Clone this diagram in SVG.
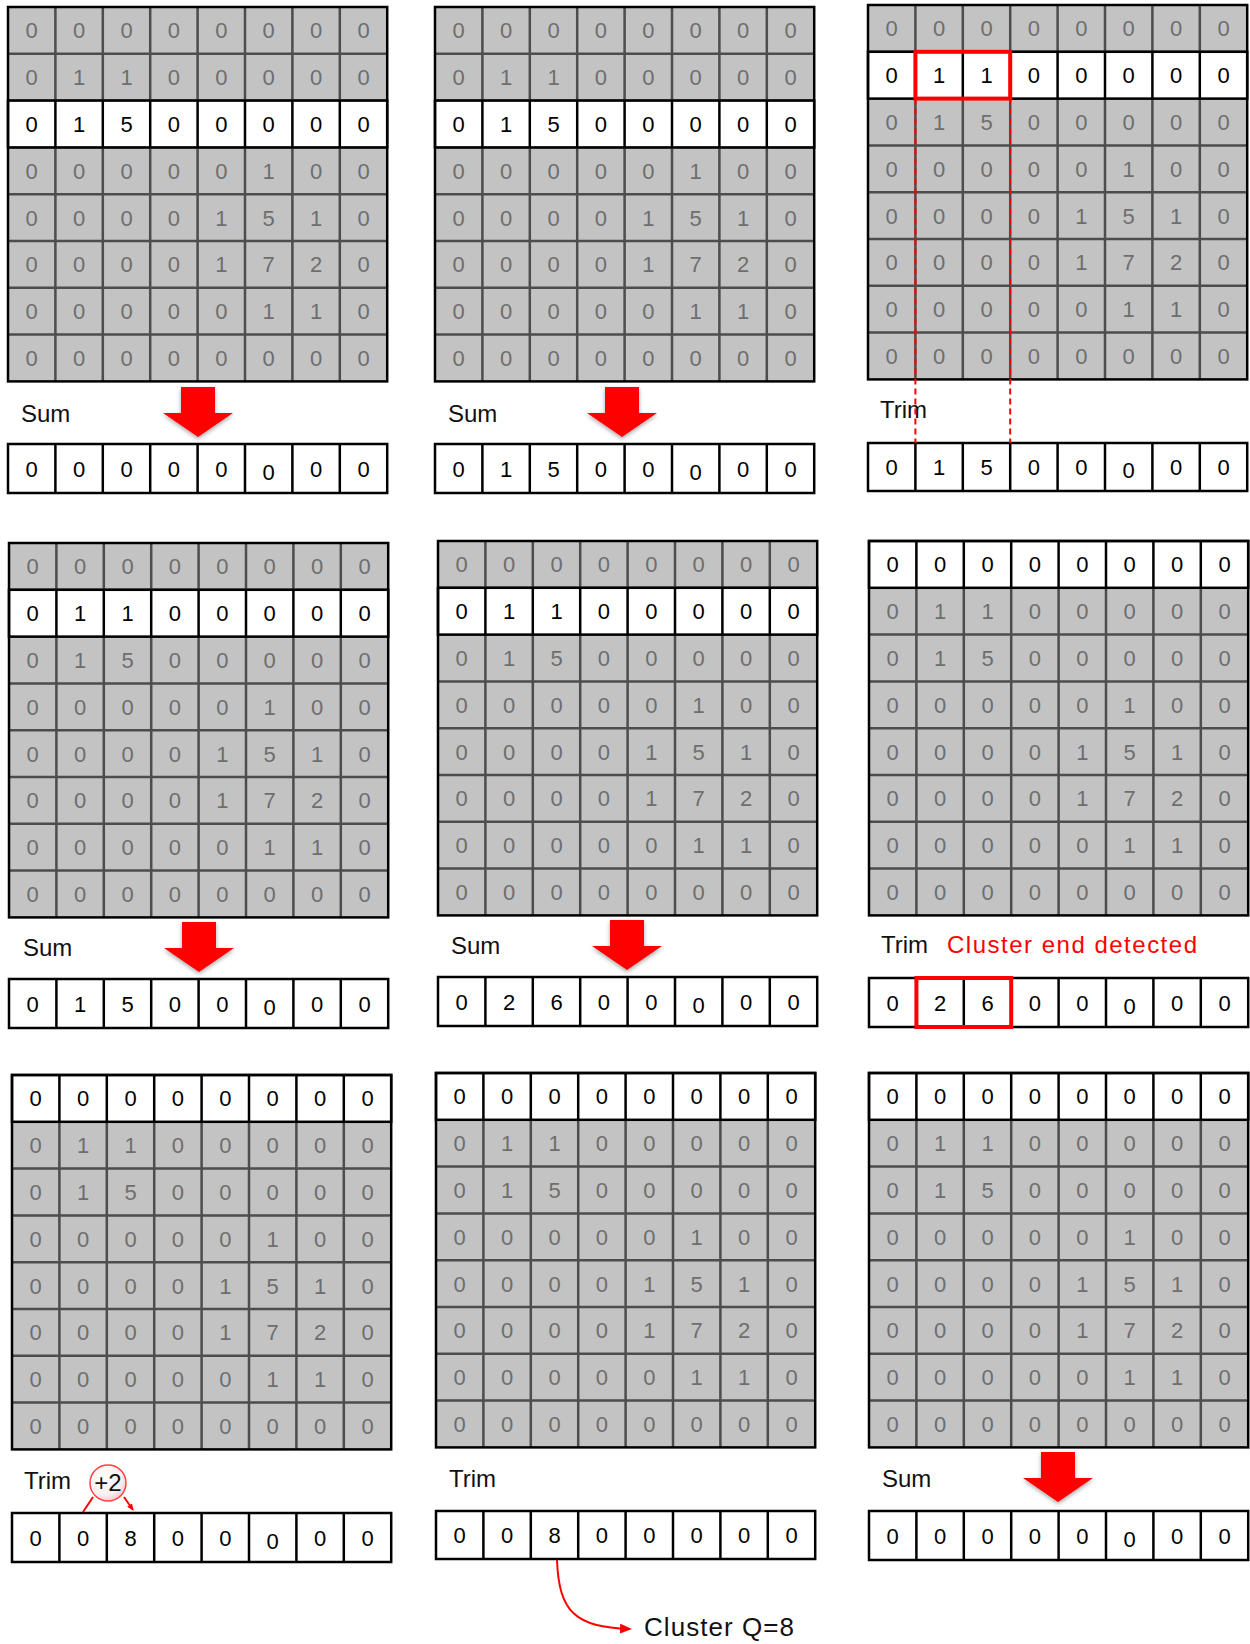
<svg xmlns="http://www.w3.org/2000/svg" xmlns:xlink="http://www.w3.org/1999/xlink" width="1250" height="1644" viewBox="0 0 1250 1644">
<style>
.bg{fill:#c3c3c3}
.gl{fill:none;stroke:#4d4d4d;stroke-width:2.5}
.wrow{fill:#fff;stroke:#000;stroke-width:2.5}
.wv{fill:none;stroke:#000;stroke-width:2.5}
.frame{fill:none;stroke:#000;stroke-width:2.5}
text{font-family:"Liberation Sans",Arial,sans-serif}
.d text,.k text{font-size:22px;text-anchor:middle}
.d{fill:#6e6e6e}
.k{fill:#000}
.lbl{font-size:24px;fill:#111}
.red{fill:#ff0000}
.hl{fill:none;stroke:#ff0000;stroke-width:4}
.dash{fill:none;stroke:#ff0000;stroke-width:2;stroke-dasharray:6 4}
.rl{fill:none;stroke:#ff0000;stroke-width:2}
.bigarrow{fill:#ff0000;filter:url(#sh)}
</style>
<defs>
<filter id="sh" x="-30%" y="-30%" width="160%" height="170%"><feDropShadow dx="0" dy="2" stdDeviation="2" flood-color="#000" flood-opacity="0.35"/></filter>
<radialGradient id="cg" cx="0.4" cy="0.35" r="0.7"><stop offset="0" stop-color="#ffffff"/><stop offset="0.7" stop-color="#f6f0f2"/><stop offset="1" stop-color="#f2c4c8"/></radialGradient>
<marker id="ahb" markerWidth="12" markerHeight="10" refX="10" refY="5" orient="auto" markerUnits="userSpaceOnUse"><path d="M0,0 L12,5 L0,10 Z" fill="#ff0000"/></marker>
<marker id="ahs" markerWidth="7" markerHeight="6" refX="6" refY="3" orient="auto" markerUnits="userSpaceOnUse"><path d="M0,0 L7,3 L0,6 Z" fill="#ff0000"/></marker>
<path id="gl" class="gl" d="M47.4 0V374.4M94.8 0V374.4M142.2 0V374.4M189.6 0V374.4M237 0V374.4M284.4 0V374.4M331.8 0V374.4M0 46.8H379.2M0 93.6H379.2M0 140.4H379.2M0 187.2H379.2M0 234H379.2M0 280.8H379.2M0 327.6H379.2"/>
<path id="wv" class="wv" d="M47.4 0V46.8M94.8 0V46.8M142.2 0V46.8M189.6 0V46.8M237 0V46.8M284.4 0V46.8M331.8 0V46.8"/>
<path id="bv" class="wv" d="M47.4 0V49M94.8 0V49M142.2 0V49M189.6 0V49M237 0V49M284.4 0V49M331.8 0V49"/>
<path id="arr" d="M-17,0 H17 V26 H35 L0,50 L-35,26 H-17 Z"/>
</defs>

<!-- Panel 1 -->
<g id="panel1" transform="translate(8,7)">
<rect class="bg" width="379.2" height="374.4"/>
<use xlink:href="#gl"/>
<rect class="wrow" y="93.6" width="379.2" height="46.8"/>
<use xlink:href="#wv" y="93.6"/>
<rect class="frame" width="379.2" height="374.4"/>
<g class="d" transform="translate(0,31.4)"><text x="23.7">0</text><text x="71.1">0</text><text x="118.5">0</text><text x="165.9">0</text><text x="213.3">0</text><text x="260.7">0</text><text x="308.1">0</text><text x="355.5">0</text></g>
<g class="d" transform="translate(0,78.2)"><text x="23.7">0</text><text x="71.1">1</text><text x="118.5">1</text><text x="165.9">0</text><text x="213.3">0</text><text x="260.7">0</text><text x="308.1">0</text><text x="355.5">0</text></g>
<g class="k" transform="translate(0,125)"><text x="23.7">0</text><text x="71.1">1</text><text x="118.5">5</text><text x="165.9">0</text><text x="213.3">0</text><text x="260.7">0</text><text x="308.1">0</text><text x="355.5">0</text></g>
<g class="d" transform="translate(0,171.8)"><text x="23.7">0</text><text x="71.1">0</text><text x="118.5">0</text><text x="165.9">0</text><text x="213.3">0</text><text x="260.7">1</text><text x="308.1">0</text><text x="355.5">0</text></g>
<g class="d" transform="translate(0,218.6)"><text x="23.7">0</text><text x="71.1">0</text><text x="118.5">0</text><text x="165.9">0</text><text x="213.3">1</text><text x="260.7">5</text><text x="308.1">1</text><text x="355.5">0</text></g>
<g class="d" transform="translate(0,265.4)"><text x="23.7">0</text><text x="71.1">0</text><text x="118.5">0</text><text x="165.9">0</text><text x="213.3">1</text><text x="260.7">7</text><text x="308.1">2</text><text x="355.5">0</text></g>
<g class="d" transform="translate(0,312.2)"><text x="23.7">0</text><text x="71.1">0</text><text x="118.5">0</text><text x="165.9">0</text><text x="213.3">0</text><text x="260.7">1</text><text x="308.1">1</text><text x="355.5">0</text></g>
<g class="d" transform="translate(0,359)"><text x="23.7">0</text><text x="71.1">0</text><text x="118.5">0</text><text x="165.9">0</text><text x="213.3">0</text><text x="260.7">0</text><text x="308.1">0</text><text x="355.5">0</text></g>
</g>
<g id="label1"><text class="lbl" x="21" y="422">Sum</text></g>
<g id="out1" transform="translate(8,444)">
<rect class="wrow" width="379.2" height="49"/><use xlink:href="#bv"/>
<g class="k" transform="translate(0,32.5)"><text x="23.7">0</text><text x="71.1">0</text><text x="118.5">0</text><text x="165.9">0</text><text x="213.3">0</text><text x="260.7" y="3">0</text><text x="308.1">0</text><text x="355.5">0</text></g>
</g>

<!-- Panel 2 -->
<g id="panel2" transform="translate(435,7)">
<rect class="bg" width="379.2" height="374.4"/>
<use xlink:href="#gl"/>
<rect class="wrow" y="93.6" width="379.2" height="46.8"/>
<use xlink:href="#wv" y="93.6"/>
<rect class="frame" width="379.2" height="374.4"/>
<g class="d" transform="translate(0,31.4)"><text x="23.7">0</text><text x="71.1">0</text><text x="118.5">0</text><text x="165.9">0</text><text x="213.3">0</text><text x="260.7">0</text><text x="308.1">0</text><text x="355.5">0</text></g>
<g class="d" transform="translate(0,78.2)"><text x="23.7">0</text><text x="71.1">1</text><text x="118.5">1</text><text x="165.9">0</text><text x="213.3">0</text><text x="260.7">0</text><text x="308.1">0</text><text x="355.5">0</text></g>
<g class="k" transform="translate(0,125)"><text x="23.7">0</text><text x="71.1">1</text><text x="118.5">5</text><text x="165.9">0</text><text x="213.3">0</text><text x="260.7">0</text><text x="308.1">0</text><text x="355.5">0</text></g>
<g class="d" transform="translate(0,171.8)"><text x="23.7">0</text><text x="71.1">0</text><text x="118.5">0</text><text x="165.9">0</text><text x="213.3">0</text><text x="260.7">1</text><text x="308.1">0</text><text x="355.5">0</text></g>
<g class="d" transform="translate(0,218.6)"><text x="23.7">0</text><text x="71.1">0</text><text x="118.5">0</text><text x="165.9">0</text><text x="213.3">1</text><text x="260.7">5</text><text x="308.1">1</text><text x="355.5">0</text></g>
<g class="d" transform="translate(0,265.4)"><text x="23.7">0</text><text x="71.1">0</text><text x="118.5">0</text><text x="165.9">0</text><text x="213.3">1</text><text x="260.7">7</text><text x="308.1">2</text><text x="355.5">0</text></g>
<g class="d" transform="translate(0,312.2)"><text x="23.7">0</text><text x="71.1">0</text><text x="118.5">0</text><text x="165.9">0</text><text x="213.3">0</text><text x="260.7">1</text><text x="308.1">1</text><text x="355.5">0</text></g>
<g class="d" transform="translate(0,359)"><text x="23.7">0</text><text x="71.1">0</text><text x="118.5">0</text><text x="165.9">0</text><text x="213.3">0</text><text x="260.7">0</text><text x="308.1">0</text><text x="355.5">0</text></g>
</g>
<g id="label2"><text class="lbl" x="448" y="422">Sum</text></g>
<g id="out2" transform="translate(435,444)">
<rect class="wrow" width="379.2" height="49"/><use xlink:href="#bv"/>
<g class="k" transform="translate(0,32.5)"><text x="23.7">0</text><text x="71.1">1</text><text x="118.5">5</text><text x="165.9">0</text><text x="213.3">0</text><text x="260.7" y="3">0</text><text x="308.1">0</text><text x="355.5">0</text></g>
</g>

<!-- Panel 3 -->
<g id="panel3" transform="translate(868,5)">
<rect class="bg" width="379.2" height="374.4"/>
<use xlink:href="#gl"/>
<rect class="wrow" y="46.8" width="379.2" height="46.8"/>
<use xlink:href="#wv" y="46.8"/>
<rect class="frame" width="379.2" height="374.4"/>
<g class="d" transform="translate(0,31.4)"><text x="23.7">0</text><text x="71.1">0</text><text x="118.5">0</text><text x="165.9">0</text><text x="213.3">0</text><text x="260.7">0</text><text x="308.1">0</text><text x="355.5">0</text></g>
<g class="k" transform="translate(0,78.2)"><text x="23.7">0</text><text x="71.1">1</text><text x="118.5">1</text><text x="165.9">0</text><text x="213.3">0</text><text x="260.7">0</text><text x="308.1">0</text><text x="355.5">0</text></g>
<g class="d" transform="translate(0,125)"><text x="23.7">0</text><text x="71.1">1</text><text x="118.5">5</text><text x="165.9">0</text><text x="213.3">0</text><text x="260.7">0</text><text x="308.1">0</text><text x="355.5">0</text></g>
<g class="d" transform="translate(0,171.8)"><text x="23.7">0</text><text x="71.1">0</text><text x="118.5">0</text><text x="165.9">0</text><text x="213.3">0</text><text x="260.7">1</text><text x="308.1">0</text><text x="355.5">0</text></g>
<g class="d" transform="translate(0,218.6)"><text x="23.7">0</text><text x="71.1">0</text><text x="118.5">0</text><text x="165.9">0</text><text x="213.3">1</text><text x="260.7">5</text><text x="308.1">1</text><text x="355.5">0</text></g>
<g class="d" transform="translate(0,265.4)"><text x="23.7">0</text><text x="71.1">0</text><text x="118.5">0</text><text x="165.9">0</text><text x="213.3">1</text><text x="260.7">7</text><text x="308.1">2</text><text x="355.5">0</text></g>
<g class="d" transform="translate(0,312.2)"><text x="23.7">0</text><text x="71.1">0</text><text x="118.5">0</text><text x="165.9">0</text><text x="213.3">0</text><text x="260.7">1</text><text x="308.1">1</text><text x="355.5">0</text></g>
<g class="d" transform="translate(0,359)"><text x="23.7">0</text><text x="71.1">0</text><text x="118.5">0</text><text x="165.9">0</text><text x="213.3">0</text><text x="260.7">0</text><text x="308.1">0</text><text x="355.5">0</text></g>
<rect class="hl" x="47.4" y="46.8" width="94.8" height="46.8"/>
</g>
<g id="label3"><text class="lbl" x="880" y="418">Trim</text></g>
<g id="out3" transform="translate(868,443)">
<rect class="wrow" width="379.2" height="48"/><use xlink:href="#bv" transform="scale(1,0.98)"/>
<g class="k" transform="translate(0,32)"><text x="23.7">0</text><text x="71.1">1</text><text x="118.5">5</text><text x="165.9">0</text><text x="213.3">0</text><text x="260.7" y="3">0</text><text x="308.1">0</text><text x="355.5">0</text></g>
</g>

<!-- Panel 4 -->
<g id="panel4" transform="translate(9,543)">
<rect class="bg" width="379.2" height="374.4"/>
<use xlink:href="#gl"/>
<rect class="wrow" y="46.8" width="379.2" height="46.8"/>
<use xlink:href="#wv" y="46.8"/>
<rect class="frame" width="379.2" height="374.4"/>
<g class="d" transform="translate(0,31.4)"><text x="23.7">0</text><text x="71.1">0</text><text x="118.5">0</text><text x="165.9">0</text><text x="213.3">0</text><text x="260.7">0</text><text x="308.1">0</text><text x="355.5">0</text></g>
<g class="k" transform="translate(0,78.2)"><text x="23.7">0</text><text x="71.1">1</text><text x="118.5">1</text><text x="165.9">0</text><text x="213.3">0</text><text x="260.7">0</text><text x="308.1">0</text><text x="355.5">0</text></g>
<g class="d" transform="translate(0,125)"><text x="23.7">0</text><text x="71.1">1</text><text x="118.5">5</text><text x="165.9">0</text><text x="213.3">0</text><text x="260.7">0</text><text x="308.1">0</text><text x="355.5">0</text></g>
<g class="d" transform="translate(0,171.8)"><text x="23.7">0</text><text x="71.1">0</text><text x="118.5">0</text><text x="165.9">0</text><text x="213.3">0</text><text x="260.7">1</text><text x="308.1">0</text><text x="355.5">0</text></g>
<g class="d" transform="translate(0,218.6)"><text x="23.7">0</text><text x="71.1">0</text><text x="118.5">0</text><text x="165.9">0</text><text x="213.3">1</text><text x="260.7">5</text><text x="308.1">1</text><text x="355.5">0</text></g>
<g class="d" transform="translate(0,265.4)"><text x="23.7">0</text><text x="71.1">0</text><text x="118.5">0</text><text x="165.9">0</text><text x="213.3">1</text><text x="260.7">7</text><text x="308.1">2</text><text x="355.5">0</text></g>
<g class="d" transform="translate(0,312.2)"><text x="23.7">0</text><text x="71.1">0</text><text x="118.5">0</text><text x="165.9">0</text><text x="213.3">0</text><text x="260.7">1</text><text x="308.1">1</text><text x="355.5">0</text></g>
<g class="d" transform="translate(0,359)"><text x="23.7">0</text><text x="71.1">0</text><text x="118.5">0</text><text x="165.9">0</text><text x="213.3">0</text><text x="260.7">0</text><text x="308.1">0</text><text x="355.5">0</text></g>
</g>
<g id="label4"><text class="lbl" x="23" y="956">Sum</text></g>
<g id="out4" transform="translate(9,979)">
<rect class="wrow" width="379.2" height="49"/><use xlink:href="#bv"/>
<g class="k" transform="translate(0,32.5)"><text x="23.7">0</text><text x="71.1">1</text><text x="118.5">5</text><text x="165.9">0</text><text x="213.3">0</text><text x="260.7" y="3">0</text><text x="308.1">0</text><text x="355.5">0</text></g>
</g>

<!-- Panel 5 -->
<g id="panel5" transform="translate(438,541)">
<rect class="bg" width="379.2" height="374.4"/>
<use xlink:href="#gl"/>
<rect class="wrow" y="46.8" width="379.2" height="46.8"/>
<use xlink:href="#wv" y="46.8"/>
<rect class="frame" width="379.2" height="374.4"/>
<g class="d" transform="translate(0,31.4)"><text x="23.7">0</text><text x="71.1">0</text><text x="118.5">0</text><text x="165.9">0</text><text x="213.3">0</text><text x="260.7">0</text><text x="308.1">0</text><text x="355.5">0</text></g>
<g class="k" transform="translate(0,78.2)"><text x="23.7">0</text><text x="71.1">1</text><text x="118.5">1</text><text x="165.9">0</text><text x="213.3">0</text><text x="260.7">0</text><text x="308.1">0</text><text x="355.5">0</text></g>
<g class="d" transform="translate(0,125)"><text x="23.7">0</text><text x="71.1">1</text><text x="118.5">5</text><text x="165.9">0</text><text x="213.3">0</text><text x="260.7">0</text><text x="308.1">0</text><text x="355.5">0</text></g>
<g class="d" transform="translate(0,171.8)"><text x="23.7">0</text><text x="71.1">0</text><text x="118.5">0</text><text x="165.9">0</text><text x="213.3">0</text><text x="260.7">1</text><text x="308.1">0</text><text x="355.5">0</text></g>
<g class="d" transform="translate(0,218.6)"><text x="23.7">0</text><text x="71.1">0</text><text x="118.5">0</text><text x="165.9">0</text><text x="213.3">1</text><text x="260.7">5</text><text x="308.1">1</text><text x="355.5">0</text></g>
<g class="d" transform="translate(0,265.4)"><text x="23.7">0</text><text x="71.1">0</text><text x="118.5">0</text><text x="165.9">0</text><text x="213.3">1</text><text x="260.7">7</text><text x="308.1">2</text><text x="355.5">0</text></g>
<g class="d" transform="translate(0,312.2)"><text x="23.7">0</text><text x="71.1">0</text><text x="118.5">0</text><text x="165.9">0</text><text x="213.3">0</text><text x="260.7">1</text><text x="308.1">1</text><text x="355.5">0</text></g>
<g class="d" transform="translate(0,359)"><text x="23.7">0</text><text x="71.1">0</text><text x="118.5">0</text><text x="165.9">0</text><text x="213.3">0</text><text x="260.7">0</text><text x="308.1">0</text><text x="355.5">0</text></g>
</g>
<g id="label5"><text class="lbl" x="451" y="954">Sum</text></g>
<g id="out5" transform="translate(438,977)">
<rect class="wrow" width="379.2" height="49"/><use xlink:href="#bv"/>
<g class="k" transform="translate(0,32.5)"><text x="23.7">0</text><text x="71.1">2</text><text x="118.5">6</text><text x="165.9">0</text><text x="213.3">0</text><text x="260.7" y="3">0</text><text x="308.1">0</text><text x="355.5">0</text></g>
</g>

<!-- Panel 6 -->
<g id="panel6" transform="translate(869,541)">
<rect class="bg" width="379.2" height="374.4"/>
<use xlink:href="#gl"/>
<rect class="wrow" y="0" width="379.2" height="46.8"/>
<use xlink:href="#wv" y="0"/>
<rect class="frame" width="379.2" height="374.4"/>
<g class="k" transform="translate(0,31.4)"><text x="23.7">0</text><text x="71.1">0</text><text x="118.5">0</text><text x="165.9">0</text><text x="213.3">0</text><text x="260.7">0</text><text x="308.1">0</text><text x="355.5">0</text></g>
<g class="d" transform="translate(0,78.2)"><text x="23.7">0</text><text x="71.1">1</text><text x="118.5">1</text><text x="165.9">0</text><text x="213.3">0</text><text x="260.7">0</text><text x="308.1">0</text><text x="355.5">0</text></g>
<g class="d" transform="translate(0,125)"><text x="23.7">0</text><text x="71.1">1</text><text x="118.5">5</text><text x="165.9">0</text><text x="213.3">0</text><text x="260.7">0</text><text x="308.1">0</text><text x="355.5">0</text></g>
<g class="d" transform="translate(0,171.8)"><text x="23.7">0</text><text x="71.1">0</text><text x="118.5">0</text><text x="165.9">0</text><text x="213.3">0</text><text x="260.7">1</text><text x="308.1">0</text><text x="355.5">0</text></g>
<g class="d" transform="translate(0,218.6)"><text x="23.7">0</text><text x="71.1">0</text><text x="118.5">0</text><text x="165.9">0</text><text x="213.3">1</text><text x="260.7">5</text><text x="308.1">1</text><text x="355.5">0</text></g>
<g class="d" transform="translate(0,265.4)"><text x="23.7">0</text><text x="71.1">0</text><text x="118.5">0</text><text x="165.9">0</text><text x="213.3">1</text><text x="260.7">7</text><text x="308.1">2</text><text x="355.5">0</text></g>
<g class="d" transform="translate(0,312.2)"><text x="23.7">0</text><text x="71.1">0</text><text x="118.5">0</text><text x="165.9">0</text><text x="213.3">0</text><text x="260.7">1</text><text x="308.1">1</text><text x="355.5">0</text></g>
<g class="d" transform="translate(0,359)"><text x="23.7">0</text><text x="71.1">0</text><text x="118.5">0</text><text x="165.9">0</text><text x="213.3">0</text><text x="260.7">0</text><text x="308.1">0</text><text x="355.5">0</text></g>
</g>
<g id="label6"><text class="lbl" x="881" y="953">Trim</text><text class="lbl red" x="947" y="953" textLength="250" lengthAdjust="spacing">Cluster end detected</text></g>
<g id="out6" transform="translate(869,978)">
<rect class="wrow" width="379.2" height="49"/><use xlink:href="#bv"/>
<g class="k" transform="translate(0,32.5)"><text x="23.7">0</text><text x="71.1">2</text><text x="118.5">6</text><text x="165.9">0</text><text x="213.3">0</text><text x="260.7" y="3">0</text><text x="308.1">0</text><text x="355.5">0</text></g>
<rect class="hl" x="47.4" y="0" width="94.8" height="49"/>
</g>

<!-- Panel 7 -->
<g id="panel7" transform="translate(12,1075)">
<rect class="bg" width="379.2" height="374.4"/>
<use xlink:href="#gl"/>
<rect class="wrow" y="0" width="379.2" height="46.8"/>
<use xlink:href="#wv" y="0"/>
<rect class="frame" width="379.2" height="374.4"/>
<g class="k" transform="translate(0,31.4)"><text x="23.7">0</text><text x="71.1">0</text><text x="118.5">0</text><text x="165.9">0</text><text x="213.3">0</text><text x="260.7">0</text><text x="308.1">0</text><text x="355.5">0</text></g>
<g class="d" transform="translate(0,78.2)"><text x="23.7">0</text><text x="71.1">1</text><text x="118.5">1</text><text x="165.9">0</text><text x="213.3">0</text><text x="260.7">0</text><text x="308.1">0</text><text x="355.5">0</text></g>
<g class="d" transform="translate(0,125)"><text x="23.7">0</text><text x="71.1">1</text><text x="118.5">5</text><text x="165.9">0</text><text x="213.3">0</text><text x="260.7">0</text><text x="308.1">0</text><text x="355.5">0</text></g>
<g class="d" transform="translate(0,171.8)"><text x="23.7">0</text><text x="71.1">0</text><text x="118.5">0</text><text x="165.9">0</text><text x="213.3">0</text><text x="260.7">1</text><text x="308.1">0</text><text x="355.5">0</text></g>
<g class="d" transform="translate(0,218.6)"><text x="23.7">0</text><text x="71.1">0</text><text x="118.5">0</text><text x="165.9">0</text><text x="213.3">1</text><text x="260.7">5</text><text x="308.1">1</text><text x="355.5">0</text></g>
<g class="d" transform="translate(0,265.4)"><text x="23.7">0</text><text x="71.1">0</text><text x="118.5">0</text><text x="165.9">0</text><text x="213.3">1</text><text x="260.7">7</text><text x="308.1">2</text><text x="355.5">0</text></g>
<g class="d" transform="translate(0,312.2)"><text x="23.7">0</text><text x="71.1">0</text><text x="118.5">0</text><text x="165.9">0</text><text x="213.3">0</text><text x="260.7">1</text><text x="308.1">1</text><text x="355.5">0</text></g>
<g class="d" transform="translate(0,359)"><text x="23.7">0</text><text x="71.1">0</text><text x="118.5">0</text><text x="165.9">0</text><text x="213.3">0</text><text x="260.7">0</text><text x="308.1">0</text><text x="355.5">0</text></g>
</g>
<g id="label7"><text class="lbl" x="24" y="1489">Trim</text></g>
<g id="plus2">
<circle cx="108" cy="1483" r="18" fill="url(#cg)" stroke="#ff4040" stroke-width="1.5"/>
<text x="108" y="1491" font-size="24" text-anchor="middle" fill="#111">+2</text>
</g>
<g id="out7" transform="translate(12,1513)">
<rect class="wrow" width="379.2" height="49"/><use xlink:href="#bv"/>
<g class="k" transform="translate(0,32.5)"><text x="23.7">0</text><text x="71.1">0</text><text x="118.5">8</text><text x="165.9">0</text><text x="213.3">0</text><text x="260.7" y="3">0</text><text x="308.1">0</text><text x="355.5">0</text></g>
</g>

<!-- Panel 8 -->
<g id="panel8" transform="translate(436,1073)">
<rect class="bg" width="379.2" height="374.4"/>
<use xlink:href="#gl"/>
<rect class="wrow" y="0" width="379.2" height="46.8"/>
<use xlink:href="#wv" y="0"/>
<rect class="frame" width="379.2" height="374.4"/>
<g class="k" transform="translate(0,31.4)"><text x="23.7">0</text><text x="71.1">0</text><text x="118.5">0</text><text x="165.9">0</text><text x="213.3">0</text><text x="260.7">0</text><text x="308.1">0</text><text x="355.5">0</text></g>
<g class="d" transform="translate(0,78.2)"><text x="23.7">0</text><text x="71.1">1</text><text x="118.5">1</text><text x="165.9">0</text><text x="213.3">0</text><text x="260.7">0</text><text x="308.1">0</text><text x="355.5">0</text></g>
<g class="d" transform="translate(0,125)"><text x="23.7">0</text><text x="71.1">1</text><text x="118.5">5</text><text x="165.9">0</text><text x="213.3">0</text><text x="260.7">0</text><text x="308.1">0</text><text x="355.5">0</text></g>
<g class="d" transform="translate(0,171.8)"><text x="23.7">0</text><text x="71.1">0</text><text x="118.5">0</text><text x="165.9">0</text><text x="213.3">0</text><text x="260.7">1</text><text x="308.1">0</text><text x="355.5">0</text></g>
<g class="d" transform="translate(0,218.6)"><text x="23.7">0</text><text x="71.1">0</text><text x="118.5">0</text><text x="165.9">0</text><text x="213.3">1</text><text x="260.7">5</text><text x="308.1">1</text><text x="355.5">0</text></g>
<g class="d" transform="translate(0,265.4)"><text x="23.7">0</text><text x="71.1">0</text><text x="118.5">0</text><text x="165.9">0</text><text x="213.3">1</text><text x="260.7">7</text><text x="308.1">2</text><text x="355.5">0</text></g>
<g class="d" transform="translate(0,312.2)"><text x="23.7">0</text><text x="71.1">0</text><text x="118.5">0</text><text x="165.9">0</text><text x="213.3">0</text><text x="260.7">1</text><text x="308.1">1</text><text x="355.5">0</text></g>
<g class="d" transform="translate(0,359)"><text x="23.7">0</text><text x="71.1">0</text><text x="118.5">0</text><text x="165.9">0</text><text x="213.3">0</text><text x="260.7">0</text><text x="308.1">0</text><text x="355.5">0</text></g>
</g>
<g id="label8"><text class="lbl" x="449" y="1487">Trim</text></g>
<g id="out8" transform="translate(436,1511)">
<rect class="wrow" width="379.2" height="48"/><use xlink:href="#bv" transform="scale(1,0.98)"/>
<g class="k" transform="translate(0,32)"><text x="23.7">0</text><text x="71.1">0</text><text x="118.5">8</text><text x="165.9">0</text><text x="213.3">0</text><text x="260.7">0</text><text x="308.1">0</text><text x="355.5">0</text></g>
</g>
<g id="result"><text class="lbl" x="644" y="1636" font-size="26" textLength="150" lengthAdjust="spacing" style="font-size:26px">Cluster Q=8</text></g>

<!-- Panel 9 -->
<g id="panel9" transform="translate(869,1073)">
<rect class="bg" width="379.2" height="374.4"/>
<use xlink:href="#gl"/>
<rect class="wrow" y="0" width="379.2" height="46.8"/>
<use xlink:href="#wv" y="0"/>
<rect class="frame" width="379.2" height="374.4"/>
<g class="k" transform="translate(0,31.4)"><text x="23.7">0</text><text x="71.1">0</text><text x="118.5">0</text><text x="165.9">0</text><text x="213.3">0</text><text x="260.7">0</text><text x="308.1">0</text><text x="355.5">0</text></g>
<g class="d" transform="translate(0,78.2)"><text x="23.7">0</text><text x="71.1">1</text><text x="118.5">1</text><text x="165.9">0</text><text x="213.3">0</text><text x="260.7">0</text><text x="308.1">0</text><text x="355.5">0</text></g>
<g class="d" transform="translate(0,125)"><text x="23.7">0</text><text x="71.1">1</text><text x="118.5">5</text><text x="165.9">0</text><text x="213.3">0</text><text x="260.7">0</text><text x="308.1">0</text><text x="355.5">0</text></g>
<g class="d" transform="translate(0,171.8)"><text x="23.7">0</text><text x="71.1">0</text><text x="118.5">0</text><text x="165.9">0</text><text x="213.3">0</text><text x="260.7">1</text><text x="308.1">0</text><text x="355.5">0</text></g>
<g class="d" transform="translate(0,218.6)"><text x="23.7">0</text><text x="71.1">0</text><text x="118.5">0</text><text x="165.9">0</text><text x="213.3">1</text><text x="260.7">5</text><text x="308.1">1</text><text x="355.5">0</text></g>
<g class="d" transform="translate(0,265.4)"><text x="23.7">0</text><text x="71.1">0</text><text x="118.5">0</text><text x="165.9">0</text><text x="213.3">1</text><text x="260.7">7</text><text x="308.1">2</text><text x="355.5">0</text></g>
<g class="d" transform="translate(0,312.2)"><text x="23.7">0</text><text x="71.1">0</text><text x="118.5">0</text><text x="165.9">0</text><text x="213.3">0</text><text x="260.7">1</text><text x="308.1">1</text><text x="355.5">0</text></g>
<g class="d" transform="translate(0,359)"><text x="23.7">0</text><text x="71.1">0</text><text x="118.5">0</text><text x="165.9">0</text><text x="213.3">0</text><text x="260.7">0</text><text x="308.1">0</text><text x="355.5">0</text></g>
</g>
<g id="label9"><text class="lbl" x="882" y="1487">Sum</text></g>
<g id="out9" transform="translate(869,1511)">
<rect class="wrow" width="379.2" height="49"/><use xlink:href="#bv"/>
<g class="k" transform="translate(0,32.5)"><text x="23.7">0</text><text x="71.1">0</text><text x="118.5">0</text><text x="165.9">0</text><text x="213.3">0</text><text x="260.7" y="3">0</text><text x="308.1">0</text><text x="355.5">0</text></g>
</g>

<!-- Connectors -->
<g id="connectors">
<use class="bigarrow" xlink:href="#arr" transform="translate(198,387)"/>
<use class="bigarrow" xlink:href="#arr" transform="translate(622,387)"/>
<use class="bigarrow" xlink:href="#arr" transform="translate(199,922)"/>
<use class="bigarrow" xlink:href="#arr" transform="translate(627,920)"/>
<use class="bigarrow" xlink:href="#arr" transform="translate(1058,1452)"/>
<path class="dash" d="M915.4 98.6V443M1010.2 98.6V443"/>
<path class="rl" d="M93 1497L83 1512"/>
<path class="rl" d="M124 1497L133 1510" marker-end="url(#ahs)"/>
<path class="rl" d="M557 1560C559 1612 575 1627 630 1629" marker-end="url(#ahb)"/>
</g>
</svg>
